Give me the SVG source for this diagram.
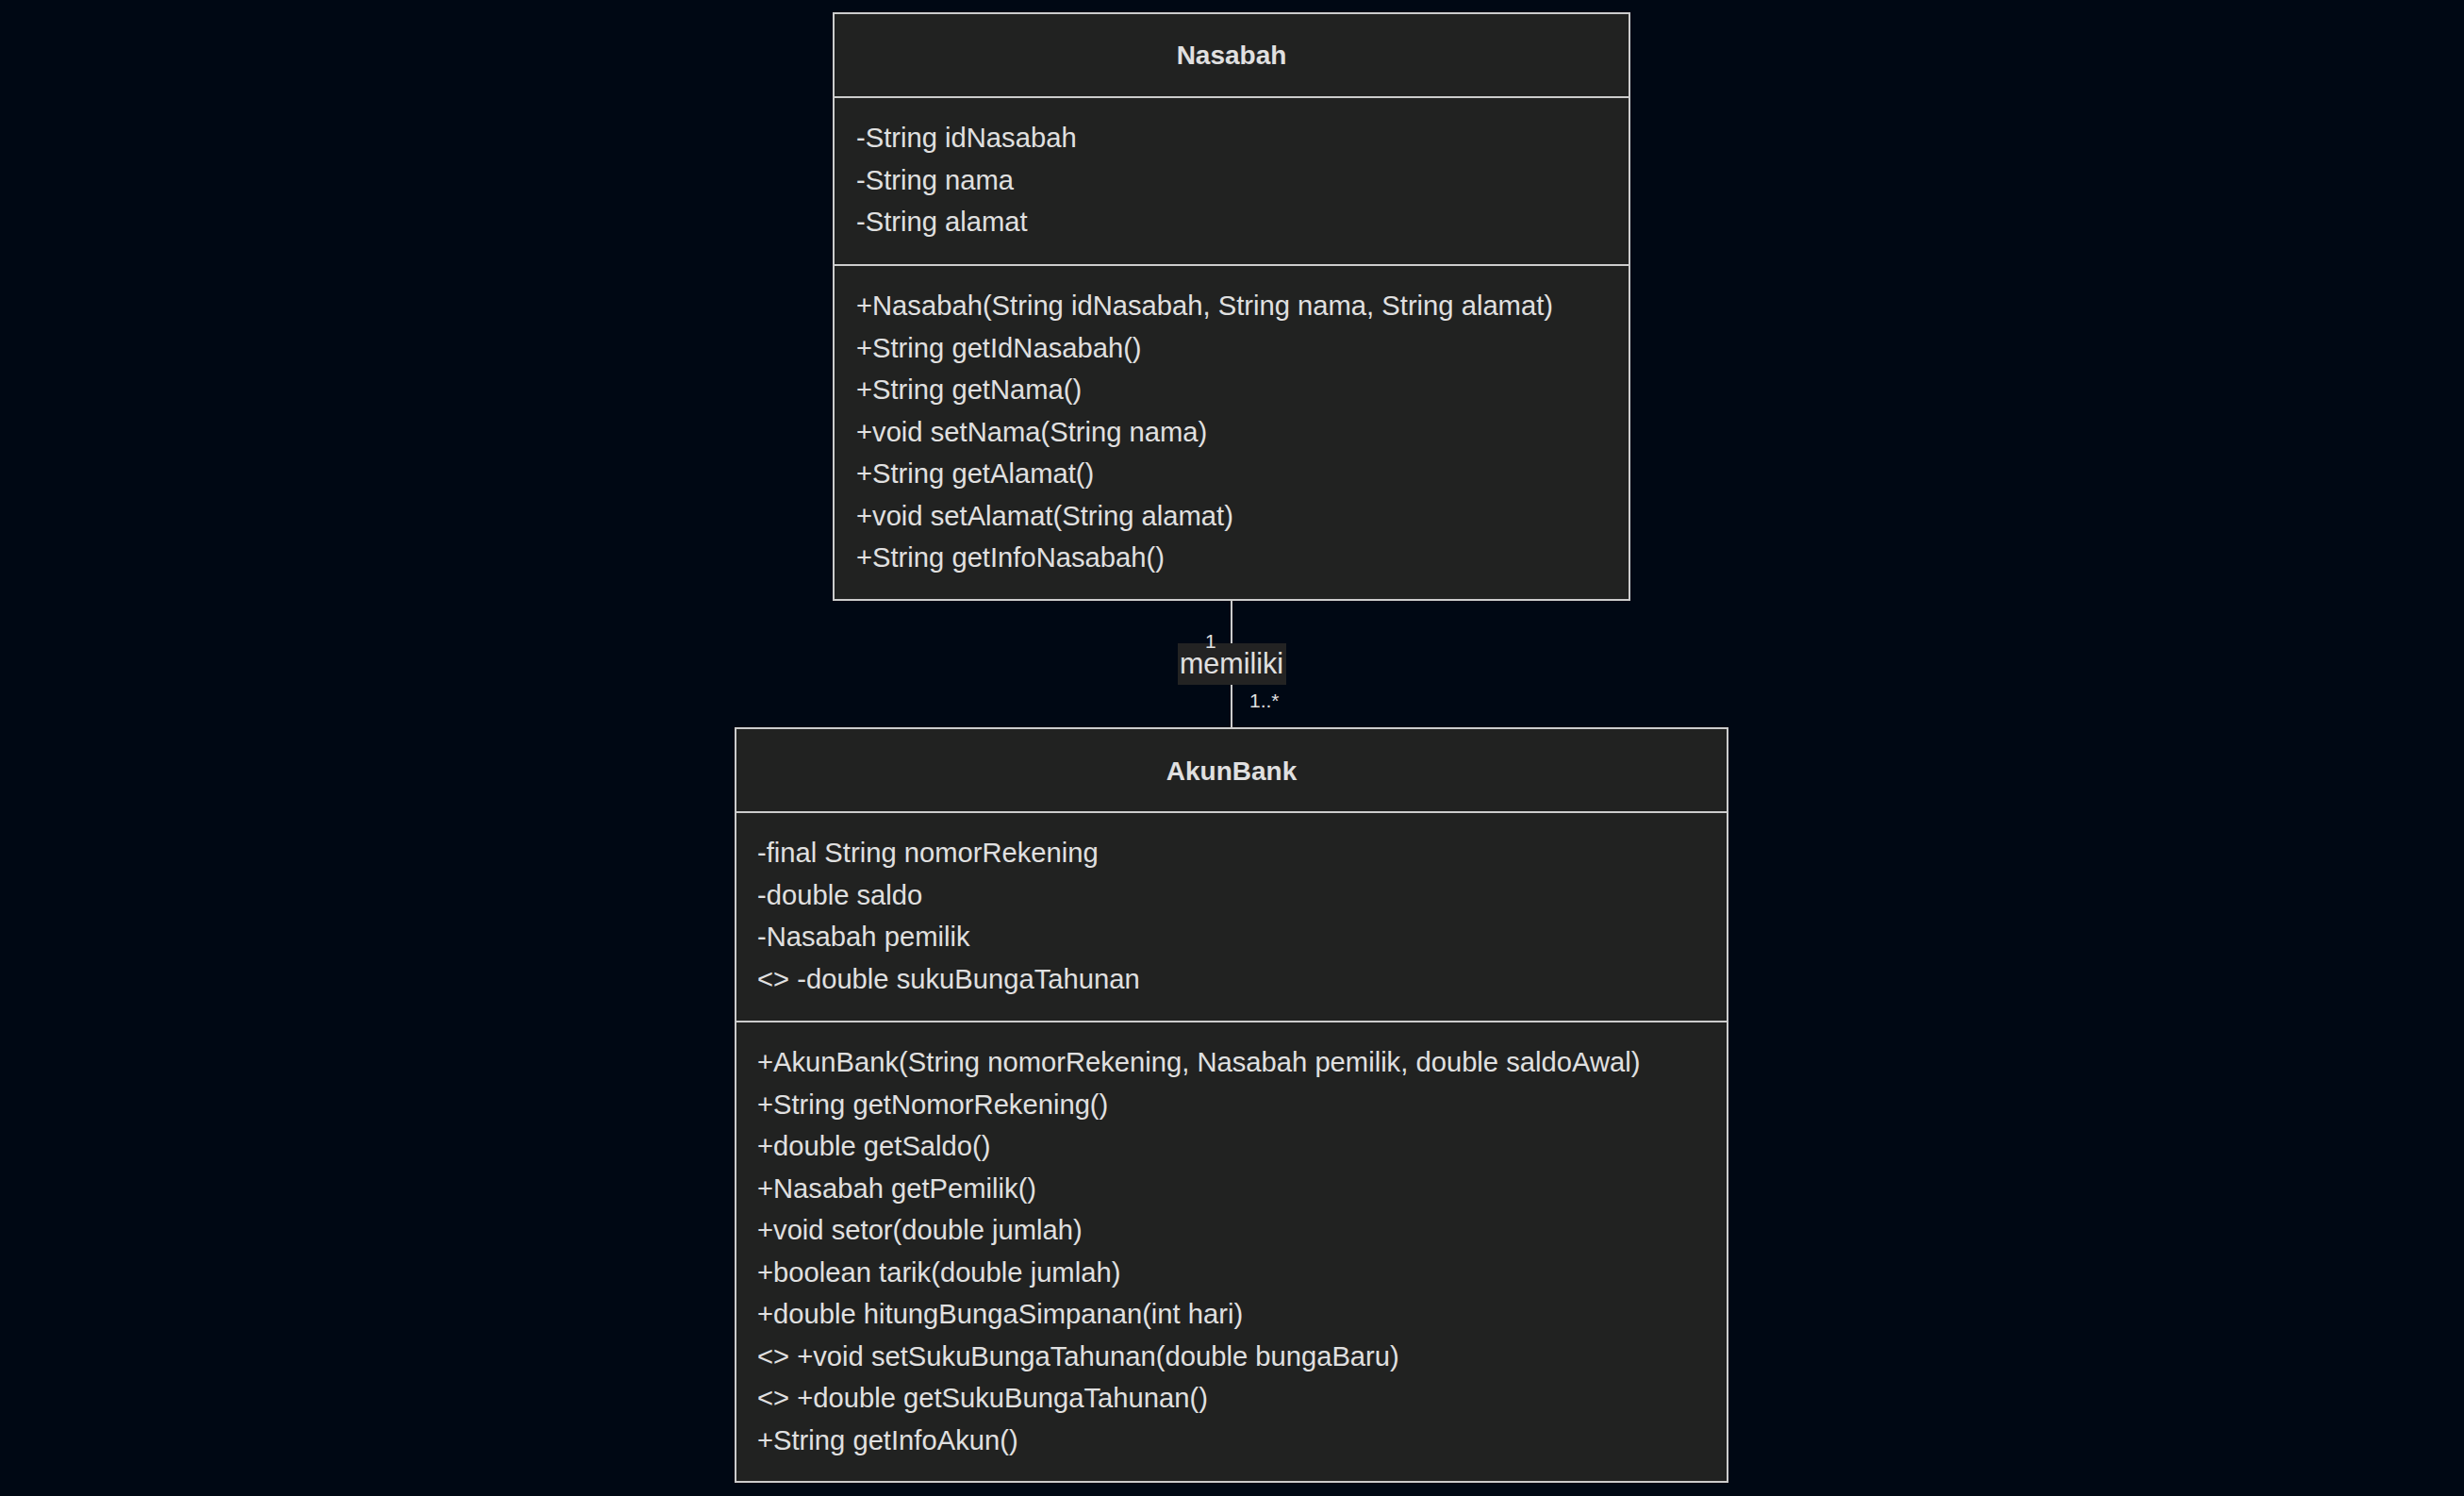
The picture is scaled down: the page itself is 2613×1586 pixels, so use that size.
<svg xmlns="http://www.w3.org/2000/svg" width="2613" height="1586" viewBox="0 0 2613 1586">
  <style>
    .box { fill: #212221; stroke: #cccccc; stroke-width: 2; }
    .div { stroke: #cccccc; stroke-width: 2; }
    .title { font-family: "Liberation Sans", Arial, sans-serif; font-size: 28px; font-weight: bold; fill: #e0e0e0; text-anchor: middle; }
    .mem { font-family: "Liberation Sans", Arial, sans-serif; font-size: 29.2px; fill: #e0e0e0; }
    .edge { stroke: #cccccc; stroke-width: 2; fill: none; }
    .elabel { font-family: "Liberation Sans", Arial, sans-serif; font-size: 30.5px; fill: #e0e0e0; text-anchor: middle; }
    .card { font-family: "Liberation Sans", Arial, sans-serif; font-size: 21px; fill: #e0e0e0; }
  </style>
  <rect width="2613" height="1586" fill="#000814"/>

  <!-- association between the two classes -->
  <g id="connectors">
    <line class="edge" x1="1306" y1="636" x2="1306" y2="772"/>
    <rect x="1249" y="682" width="115" height="44" fill="#232323"/>
    <text class="elabel" x="1306" y="714">memiliki</text>
    <text class="card" x="1278" y="687">1</text>
    <text class="card" x="1325" y="750">1..*</text>
  </g>

  <!-- class Nasabah -->
  <g id="Nasabah">
    <rect class="box" x="884" y="14" width="844" height="622"/>
    <line class="div" x1="884" y1="103" x2="1728" y2="103"/>
    <line class="div" x1="884" y1="281" x2="1728" y2="281"/>
    <text class="title" x="1306" y="68">Nasabah</text>
    <text class="mem" x="908" y="156">-String idNasabah</text>
    <text class="mem" x="908" y="200.5">-String nama</text>
    <text class="mem" x="908" y="245">-String alamat</text>
    <text class="mem" x="908" y="334">+Nasabah(String idNasabah, String nama, String alamat)</text>
    <text class="mem" x="908" y="378.5">+String getIdNasabah()</text>
    <text class="mem" x="908" y="423">+String getNama()</text>
    <text class="mem" x="908" y="467.5">+void setNama(String nama)</text>
    <text class="mem" x="908" y="512">+String getAlamat()</text>
    <text class="mem" x="908" y="556.5">+void setAlamat(String alamat)</text>
    <text class="mem" x="908" y="601">+String getInfoNasabah()</text>
  </g>

  <!-- class AkunBank -->
  <g id="AkunBank">
    <rect class="box" x="780" y="772" width="1052" height="799"/>
    <line class="div" x1="780" y1="861" x2="1832" y2="861"/>
    <line class="div" x1="780" y1="1083" x2="1832" y2="1083"/>
    <text class="title" x="1306" y="827">AkunBank</text>
    <text class="mem" x="803" y="914">-final String nomorRekening</text>
    <text class="mem" x="803" y="958.5">-double saldo</text>
    <text class="mem" x="803" y="1003">-Nasabah pemilik</text>
    <text class="mem" x="803" y="1047.5">&lt;&gt; -double sukuBungaTahunan</text>
    <text class="mem" x="803" y="1136">+AkunBank(String nomorRekening, Nasabah pemilik, double saldoAwal)</text>
    <text class="mem" x="803" y="1180.5">+String getNomorRekening()</text>
    <text class="mem" x="803" y="1225">+double getSaldo()</text>
    <text class="mem" x="803" y="1269.5">+Nasabah getPemilik()</text>
    <text class="mem" x="803" y="1314">+void setor(double jumlah)</text>
    <text class="mem" x="803" y="1358.5">+boolean tarik(double jumlah)</text>
    <text class="mem" x="803" y="1403">+double hitungBungaSimpanan(int hari)</text>
    <text class="mem" x="803" y="1447.5">&lt;&gt; +void setSukuBungaTahunan(double bungaBaru)</text>
    <text class="mem" x="803" y="1492">&lt;&gt; +double getSukuBungaTahunan()</text>
    <text class="mem" x="803" y="1536.5">+String getInfoAkun()</text>
  </g>
</svg>
